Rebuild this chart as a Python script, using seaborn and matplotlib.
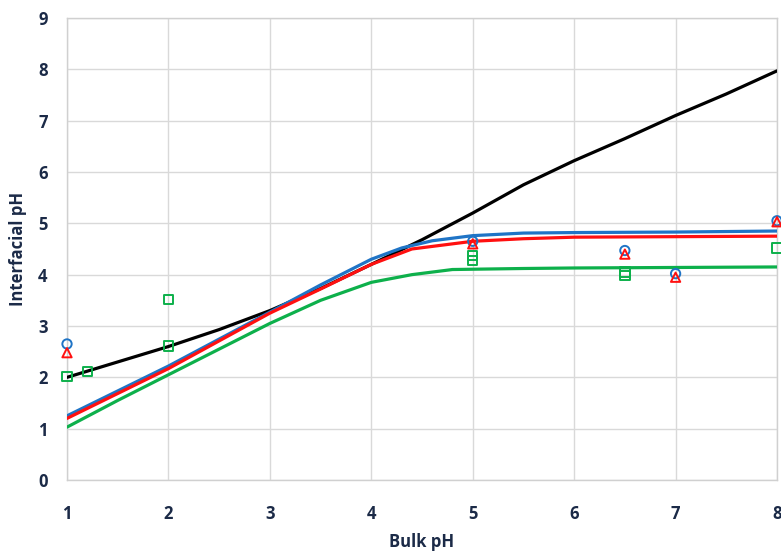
import numpy as np
import pandas as pd
import matplotlib
matplotlib.use("Agg")
import matplotlib.pyplot as plt
import seaborn as sns

# Model curves: interfacial pH vs bulk pH
bulk_black = [1.0, 1.5, 2.0, 2.5, 3.0, 3.5, 4.0, 4.5, 5.0, 5.5, 6.0, 6.5, 7.0, 7.5, 8.0]
ph_black = [2.0, 2.3, 2.6, 2.93, 3.3, 3.73, 4.2, 4.68, 5.2, 5.75, 6.22, 6.65, 7.1, 7.52, 7.97]

bulk_blue = [1.0, 2.0, 3.0, 3.5, 4.0, 4.3, 4.6, 5.0, 5.5, 6.0, 7.0, 8.0]
ph_blue = [1.25, 2.22, 3.27, 3.8, 4.3, 4.52, 4.66, 4.76, 4.81, 4.82, 4.83, 4.85]

bulk_red = [1.0, 2.0, 3.0, 3.5, 4.0, 4.4, 5.0, 5.5, 6.0, 7.0, 8.0]
ph_red = [1.2, 2.17, 3.25, 3.72, 4.2, 4.5, 4.65, 4.7, 4.73, 4.74, 4.75]

bulk_green = [1.0, 1.5, 2.0, 2.5, 3.0, 3.5, 4.0, 4.4, 4.8, 5.5, 6.0, 7.0, 8.0]
ph_green = [1.03, 1.55, 2.05, 2.55, 3.05, 3.5, 3.85, 4.0, 4.1, 4.12, 4.13, 4.14, 4.15]

# Measured points
circ_x = [1.0, 5.0, 6.5, 7.0, 8.0]
circ_y = [2.65, 4.65, 4.47, 4.02, 5.05]

tri_x = [1.0, 5.0, 6.5, 7.0, 8.0]
tri_y = [2.48, 4.6, 4.4, 3.95, 5.03]

sq_x = [1.0, 1.2, 2.0, 2.0, 5.0, 5.0, 6.5, 6.5, 8.0]
sq_y = [2.02, 2.11, 3.52, 2.61, 4.37, 4.27, 4.05, 3.98, 4.52]

x_ticks = [1, 2, 3, 4, 5, 6, 7, 8]
y_ticks = [0, 1, 2, 3, 4, 5, 6, 7, 8, 9]

sns.set_theme(style="white")
plt.rcParams["font.family"] = ["Open Sans", "DejaVu Sans"]

BLUE = "#1F74C6"
RED = "#FF1010"
GREEN = "#0DB04B"
TEXT = "#1B2A47"

fig = plt.figure(figsize=(7.81, 5.53), dpi=100)
ax = fig.add_axes([0.0858, 0.132, 0.9091, 0.8355])

lw = 2.3
sns.lineplot(x=bulk_black, y=ph_black, ax=ax, color="black", lw=lw, sort=False, zorder=3)
sns.lineplot(x=bulk_green, y=ph_green, ax=ax, color=GREEN, lw=lw, sort=False, zorder=3)
sns.lineplot(x=bulk_blue, y=ph_blue, ax=ax, color=BLUE, lw=lw, sort=False, zorder=3)
sns.lineplot(x=bulk_red, y=ph_red, ax=ax, color=RED, lw=lw, sort=False, zorder=3)

sns.scatterplot(x=circ_x, y=circ_y, ax=ax, marker="o", s=45, facecolor="none",
                edgecolor=BLUE, linewidth=1.4, zorder=4, clip_on=False)
sns.scatterplot(x=tri_x, y=tri_y, ax=ax, marker="^", s=45, facecolor="none",
                edgecolor=RED, linewidth=1.4, zorder=5, clip_on=False)
sns.scatterplot(x=sq_x, y=sq_y, ax=ax, marker="s", s=45, facecolor="none",
                edgecolor=GREEN, linewidth=1.4, zorder=5, clip_on=False)

ax.set_xlim(1, 8)
ax.set_ylim(0, 9)
ax.set_xticks(x_ticks)
ax.set_yticks(y_ticks)
ax.set_xticklabels([str(t) for t in x_ticks], fontsize=12, fontweight="bold", color=TEXT)
ax.set_yticklabels([str(t) for t in y_ticks], fontsize=12, fontweight="bold", color=TEXT)
ax.tick_params(axis="x", length=0, pad=18)
ax.tick_params(axis="y", length=0, pad=14)

ax.grid(True, color="#D9D9D9", lw=1.0)
ax.set_axisbelow(True)
for side in ["top", "right", "left", "bottom"]:
    ax.spines[side].set_color("#D0D0D0")
    ax.spines[side].set_linewidth(1.0)

ax.set_xlabel("Bulk pH", fontsize=12, fontweight="bold", color=TEXT, labelpad=7)
ax.set_ylabel("Interfacial pH", fontsize=12, fontweight="bold", color=TEXT, labelpad=8)

fig.savefig("out.png", dpi=100)
